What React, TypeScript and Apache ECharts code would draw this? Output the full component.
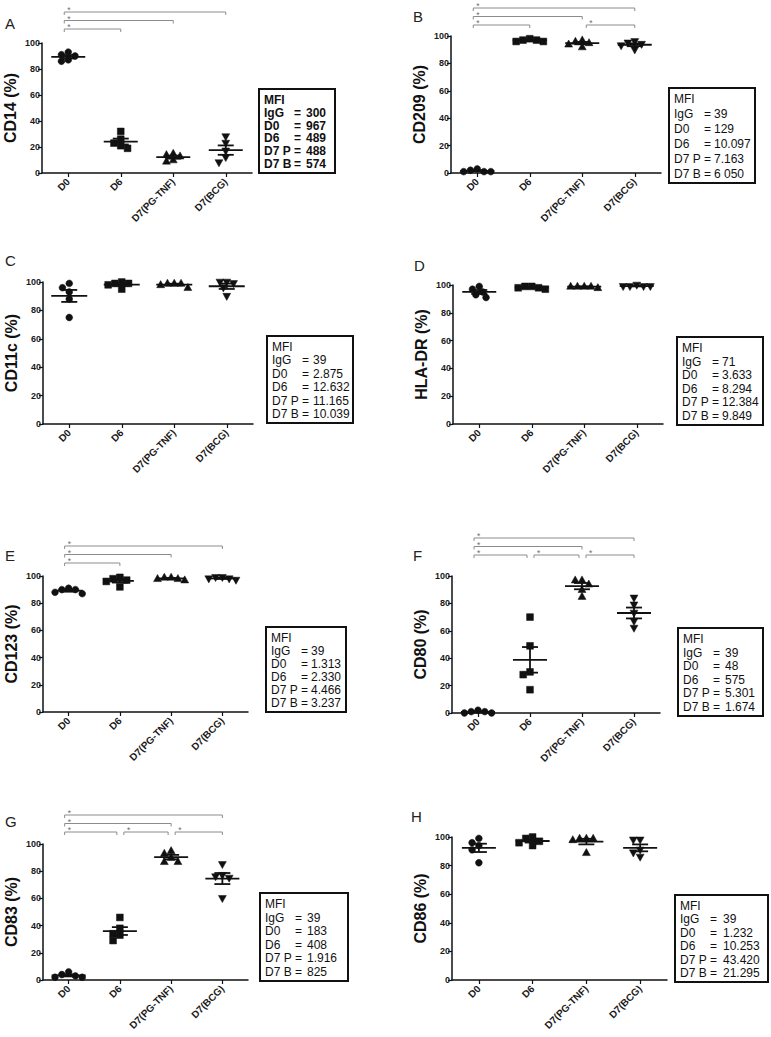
import React, { useEffect, useRef } from "react";
import * as echarts from "echarts";

// ---------- data ----------
const categories = ["D0", "D6", "D7(PG-TNF)", "D7(BCG)"];
const yTicks = [0, 20, 40, 60, 80, 100];
const mfiLabels = ["IgG", "D0", "D6", "D7 P", "D7 B"];

const cd14 = [[93, 91, 90, 87, 86], [32, 26, 23, 21, 19], [15, 14, 13, 10, 9], [28, 23, 17, 12, 8]];
const cd209 = [[3, 2, 1, 1, 1], [98, 97, 97, 96, 96], [97, 96, 95, 94, 92], [96, 95, 94, 93, 90]];
const cd11c = [[99, 96, 93, 88, 75], [100, 99, 99, 98, 95], [99, 99, 99, 98, 96], [100, 100, 99, 96, 90]];
const hladr = [[99, 97, 95, 93, 91], [99, 99, 98, 98, 97], [99, 99, 99, 99, 98], [100, 99, 99, 99, 99]];
const cd123 = [[91, 90, 90, 88, 87], [99, 98, 97, 96, 92], [99, 99, 98, 98, 97], [99, 99, 98, 98, 97]];
const cd80 = [[2, 1, 1, 0, 0], [70, 49, 30, 28, 17], [97, 97, 94, 90, 85], [84, 79, 73, 67, 62]];
const cd83 = [[6, 4, 3, 2, 2], [46, 38, 34, 33, 29], [95, 93, 90, 87, 87], [85, 77, 76, 75, 60]];
const cd86 = [[99, 96, 94, 91, 82], [100, 99, 97, 96, 94], [99, 99, 99, 98, 89], [98, 98, 91, 89, 86]];

const mfiA = ["300", "967", "489", "488", "574"];
const mfiB = ["39", "129", "10.097", "7.163", "6 050"];
const mfiC = ["39", "2.875", "12.632", "11.165", "10.039"];
const mfiD = ["71", "3.633", "8.294", "12.384", "9.849"];
const mfiE = ["39", "1.313", "2.330", "4.466", "3.237"];
const mfiF = ["39", "48", "575", "5.301", "1.674"];
const mfiG = ["39", "183", "408", "1.916", "825"];
const mfiH = ["39", "1.232", "10.253", "43.420", "21.295"];

// significance brackets: [fromCategory, toCategory, level]
const sigA = [[0, 1, 0], [0, 2, 1], [0, 3, 2]];
const sigB = [[0, 1, 0], [2, 3, 0], [0, 2, 1], [0, 3, 2]];
const sigE = [[0, 1, 0], [0, 2, 1], [0, 3, 2]];
const sigF = [[0, 1, 0], [1, 2, 0], [2, 3, 0], [0, 2, 1], [0, 3, 2]];
const sigG = [[0, 1, 0], [1, 2, 0], [2, 3, 0], [0, 2, 1], [0, 3, 2]];

// ---------- layout ----------
const FONT = "Liberation Sans, Arial, Helvetica, sans-serif";

const panels = [
  { letter: "A", title: "CD14 (%)", data: cd14, mfi: mfiA, sig: sigA, grid: { left: 42, top: 43, width: 210, height: 130 }, letterPos: [5, 16], box: { x: 259, y: 89, w: 76, h: 84, eq: 35, val: 47, bold: true }, sigBase: 14, sigStep: 8.5, half: 17 },
  { letter: "B", title: "CD209 (%)", data: cd209, mfi: mfiB, sig: sigB, grid: { left: 451, top: 36, width: 210, height: 137 }, letterPos: [413, 9], box: { x: 669, y: 88, w: 86, h: 95, eq: 35, val: 45, bold: false }, sigBase: 11, sigStep: 8.5, half: 17 },
  { letter: "C", title: "CD11c (%)", data: cd11c, mfi: mfiC, sig: [], grid: { left: 43, top: 282, width: 210, height: 142 }, letterPos: [5, 253], box: { x: 267, y: 336, w: 86, h: 87, eq: 35, val: 46, bold: false }, sigBase: 13, sigStep: 8.5, half: 18 },
  { letter: "D", title: "HLA-DR (%)", data: hladr, mfi: mfiD, sig: [], grid: { left: 453, top: 285, width: 210, height: 139 }, letterPos: [414, 258], box: { x: 677, y: 337, w: 86, h: 88, eq: 35, val: 45, bold: false }, sigBase: 13, sigStep: 8.5, half: 17 },
  { letter: "E", title: "CD123 (%)", data: cd123, mfi: mfiE, sig: sigE, grid: { left: 43, top: 576, width: 205, height: 136 }, letterPos: [5, 548], box: { x: 266, y: 627, w: 80, h: 85, eq: 35, val: 45, bold: false }, sigBase: 13, sigStep: 8.5, half: 14 },
  { letter: "F", title: "CD80 (%)", data: cd80, mfi: mfiF, sig: sigF, grid: { left: 452, top: 576, width: 208, height: 137 }, letterPos: [413, 548], box: { x: 678, y: 628, w: 85, h: 88, eq: 35, val: 47, bold: false }, sigBase: 21, sigStep: 8.5, half: 17 },
  { letter: "G", title: "CD83 (%)", data: cd83, mfi: mfiG, sig: sigG, grid: { left: 43, top: 844, width: 205, height: 136 }, letterPos: [5, 814], box: { x: 260, y: 893, w: 88, h: 88, eq: 35, val: 47, bold: false }, sigBase: 12, sigStep: 8.5, half: 17 },
  { letter: "H", title: "CD86 (%)", data: cd86, mfi: mfiH, sig: [], grid: { left: 452, top: 837, width: 215, height: 143 }, letterPos: [411, 809], box: { x: 675, y: 895, w: 93, h: 87, eq: 35, val: 48, bold: false }, sigBase: 13, sigStep: 8.5, half: 17 },
];

function markerShape(kind: number, cx: number, cy: number, s: number) {
  const style = { fill: "#111", stroke: "#111", lineWidth: 0.5 };
  if (kind === 0) return { type: "circle", shape: { cx, cy, r: s / 2 }, style };
  if (kind === 1) return { type: "rect", shape: { x: cx - s / 2, y: cy - s / 2, width: s, height: s }, style };
  if (kind === 2)
    return { type: "polygon", shape: { points: [[cx, cy - s * 0.62], [cx - s * 0.58, cy + s * 0.42], [cx + s * 0.58, cy + s * 0.42]] }, style };
  return { type: "polygon", shape: { points: [[cx, cy + s * 0.62], [cx - s * 0.58, cy - s * 0.42], [cx + s * 0.58, cy - s * 0.42]] }, style };
}

function buildOption() {
  const grid: any[] = [];
  const xAxis: any[] = [];
  const yAxis: any[] = [];
  const series: any[] = [];
  const graphic: any[] = [];

  panels.forEach((p, gi) => {
    grid.push({ left: p.grid.left, top: p.grid.top, width: p.grid.width, height: p.grid.height, containLabel: false });
    xAxis.push({
      gridIndex: gi,
      type: "category",
      data: categories,
      boundaryGap: true,
      axisLine: { show: true, lineStyle: { color: "#111", width: 1.5 } },
      axisTick: { show: true, alignWithLabel: true, length: 4, lineStyle: { color: "#111", width: 1.2 } },
      axisLabel: { rotate: 45, fontSize: 10, fontWeight: "bold", fontFamily: FONT, color: "#1a1a1a", margin: 7, interval: 0 },
      splitLine: { show: false },
    });
    yAxis.push({
      gridIndex: gi,
      type: "value",
      min: yTicks[0],
      max: yTicks[yTicks.length - 1],
      interval: yTicks[1] - yTicks[0],
      name: p.title,
      nameLocation: "middle",
      nameRotate: 90,
      nameGap: 24,
      nameTextStyle: { fontSize: 16, fontWeight: "bold", fontFamily: FONT, color: "#111" },
      axisLine: { show: true, lineStyle: { color: "#111", width: 1.5 } },
      axisTick: { show: true, length: 4, lineStyle: { color: "#111", width: 1.2 } },
      axisLabel: { fontSize: 9, fontWeight: "bold", fontFamily: FONT, color: "#1a1a1a", margin: 2 },
      splitLine: { show: false },
    });

    const groups = p.data;
    series.push({
      type: "custom",
      xAxisIndex: gi,
      yAxisIndex: gi,
      clip: false,
      data: groups.map((vals, ci) => [ci, vals.reduce((a, b) => a + b, 0) / vals.length]),
      renderItem: (params: any, api: any) => {
        const ci = params.dataIndex;
        const vals = groups[ci];
        const n = vals.length;
        const mean = vals.reduce((a, b) => a + b, 0) / n;
        const sd = Math.sqrt(vals.reduce((a, b) => a + (b - mean) * (b - mean), 0) / (n - 1));
        const sem = sd / Math.sqrt(n);
        const c = api.coord([ci, mean]);
        const cx = c[0];
        const my = c[1];
        const hi = api.coord([ci, mean + sem])[1];
        const lo = api.coord([ci, mean - sem])[1];
        const s = 6.8;
        // beeswarm-like spreading of overlapping points
        const pts = vals.map((v) => api.coord([ci, v])[1]).sort((a, b) => a - b);
        const placed: { x: number; y: number }[] = [];
        const step = s * 0.5;
        const minD = s * 0.95;
        pts.forEach((py) => {
          for (let k = 0; k < 30; k++) {
            const m = Math.ceil(k / 2);
            const off = k === 0 ? 0 : (k % 2 === 1 ? -m : m) * step;
            const ok = placed.every((q) => {
              const dx = q.x - off;
              const dy = q.y - py;
              return dx * dx + dy * dy >= minD * minD;
            });
            if (ok) {
              placed.push({ x: off, y: py });
              break;
            }
          }
        });
        const children: any[] = placed.map((q) => markerShape(ci, cx + q.x, q.y, s));
        const ls = { stroke: "#111", lineWidth: 1.8 };
        children.push({ type: "line", shape: { x1: cx - p.half, y1: my, x2: cx + p.half, y2: my }, style: ls });
        children.push({ type: "line", shape: { x1: cx, y1: hi, x2: cx, y2: lo }, style: ls });
        children.push({ type: "line", shape: { x1: cx - 8, y1: hi, x2: cx + 8, y2: hi }, style: ls });
        children.push({ type: "line", shape: { x1: cx - 8, y1: lo, x2: cx + 8, y2: lo }, style: ls });
        return { type: "group", children };
      },
      z: 5,
    });

    if (p.sig.length) {
      const sig = p.sig;
      series.push({
        type: "custom",
        xAxisIndex: gi,
        yAxisIndex: gi,
        clip: false,
        data: sig.map((b) => [b[0], 100]),
        renderItem: (params: any, api: any) => {
          const b = sig[params.dataIndex];
          const top = params.coordSys.y;
          const y = top - p.sigBase - b[2] * p.sigStep;
          const x1 = api.coord([b[0], 0])[0] + (b[0] === 0 ? -4 : 4);
          const shared = sig.some((o) => o[0] === b[1] && o[2] === b[2]);
          const x2 = api.coord([b[1], 0])[0] - (shared ? 3 : 0);
          const st = { stroke: "#8c8c8c", lineWidth: 1 };
          return {
            type: "group",
            children: [
              { type: "line", shape: { x1, y1: y, x2, y2: y }, style: st },
              { type: "line", shape: { x1, y1: y, x2: x1, y2: y + 3 }, style: st },
              { type: "line", shape: { x1: x2, y1: y, x2, y2: y + 3 }, style: st },
              { type: "text", x: x1 + 3, y: y + 2.5, style: { text: "*", fill: "#6f6f6f", fontSize: 8.5, fontFamily: FONT, textVerticalAlign: "bottom" } },
            ],
          };
        },
      });
    }

    graphic.push({
      type: "text",
      left: p.letterPos[0],
      top: p.letterPos[1],
      style: { text: p.letter, fontSize: 15, fontFamily: FONT, fill: "#222" },
    });

    const bx = p.box;
    const first = 11;
    const lineH = (bx.h - first - 9) / 5;
    const boxChildren: any[] = [
      { type: "rect", shape: { x: 0, y: 0, width: bx.w, height: bx.h }, style: { fill: "#fff", stroke: "#111", lineWidth: 2 } },
    ];
    const fw = bx.bold ? "bold" : "normal";
    const fs = 12;
    const tstyle = (text: string) => ({ text, fontSize: fs, fontWeight: fw, fontFamily: FONT, fill: "#111", textVerticalAlign: "middle" });
    boxChildren.push({ type: "text", x: 5, y: first, style: tstyle("MFI") });
    mfiLabels.forEach((lab, i) => {
      const ty = first + lineH * (i + 1);
      boxChildren.push({ type: "text", x: 5, y: ty, style: tstyle(lab) });
      boxChildren.push({ type: "text", x: bx.eq, y: ty, style: tstyle("=") });
      boxChildren.push({ type: "text", x: bx.val, y: ty, style: tstyle(p.mfi[i]) });
    });
    graphic.push({ type: "group", x: bx.x, y: bx.y, children: boxChildren });
  });

  return { animation: false, backgroundColor: "#fff", grid, xAxis, yAxis, series, graphic };
}

export default function App() {
  const ref = useRef<HTMLDivElement>(null);
  useEffect(() => {
    if (!ref.current) return;
    const chart = echarts.init(ref.current, undefined, { renderer: "svg" });
    chart.setOption(buildOption() as any);
    return () => chart.dispose();
  }, []);
  return <div ref={ref} style={{ position: "absolute", left: 0, top: 0, width: 771, height: 1037, background: "#fff" }} />;
}
